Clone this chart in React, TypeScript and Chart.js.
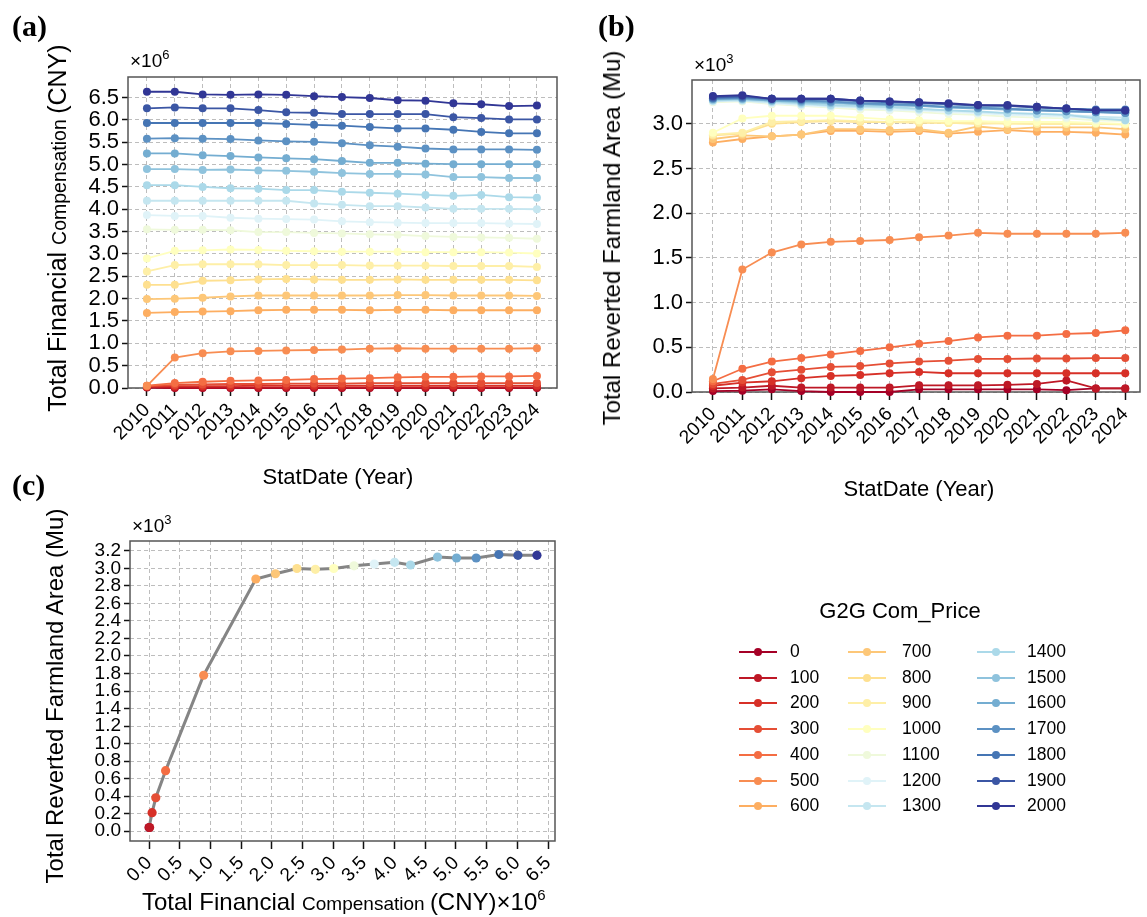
import React, { useEffect, useRef } from "react";
import { Chart, registerables } from "chart.js";

Chart.register(...registerables);

const W = 1147;
const H = 917;
const FONT = "'Liberation Sans', Arial, Helvetica, sans-serif";
const SERIF = "'Liberation Serif', 'Times New Roman', serif";

const years = [2010, 2011, 2012, 2013, 2014, 2015, 2016, 2017, 2018, 2019, 2020, 2021, 2022, 2023, 2024];
const prices = [0, 100, 200, 300, 400, 500, 600, 700, 800, 900, 1000, 1100, 1200, 1300, 1400, 1500, 1600, 1700, 1800, 1900, 2000];
const priceColors = [
  "#a50026", "#be1826", "#d73027", "#e54e35", "#f46d43", "#f88d52", "#fdae61",
  "#fdc778", "#fee090", "#feefa7", "#ffffbf", "#eff9db", "#e0f3f8", "#c5e6f0",
  "#abd9e9", "#8fc3dd", "#74add1", "#5c91c3", "#4575b4", "#3b56a4", "#313695",
];

// total financial compensation, x10^6 CNY, one array per G2G price
const compP0 = [0.01, 0, 0, 0, 0, 0, 0, 0, 0, 0, 0, 0, 0, 0, 0];
const compP100 = [0.02, 0.01, 0.01, 0.01, 0.01, 0.01, 0.01, 0.01, 0.01, 0.01, 0.01, 0.01, 0.01, 0.01, 0.01];
const compP200 = [0.03, 0.04, 0.04, 0.04, 0.05, 0.05, 0.05, 0.05, 0.05, 0.05, 0.05, 0.05, 0.05, 0.05, 0.05];
const compP300 = [0.04, 0.07, 0.08, 0.09, 0.09, 0.1, 0.1, 0.1, 0.11, 0.11, 0.11, 0.11, 0.11, 0.11, 0.11];
const compP400 = [0.05, 0.11, 0.14, 0.16, 0.17, 0.18, 0.2, 0.21, 0.22, 0.24, 0.25, 0.25, 0.26, 0.26, 0.27];
const compP500 = [0.05, 0.68, 0.78, 0.82, 0.83, 0.84, 0.85, 0.86, 0.88, 0.89, 0.88, 0.88, 0.88, 0.88, 0.89];
const compP600 = [1.68, 1.7, 1.71, 1.72, 1.74, 1.75, 1.75, 1.75, 1.74, 1.75, 1.75, 1.74, 1.74, 1.74, 1.74];
const compP700 = [1.99, 2.0, 2.02, 2.05, 2.07, 2.07, 2.07, 2.07, 2.07, 2.08, 2.08, 2.07, 2.07, 2.07, 2.06];
const compP800 = [2.31, 2.31, 2.4, 2.41, 2.43, 2.44, 2.43, 2.42, 2.42, 2.43, 2.42, 2.42, 2.42, 2.42, 2.41];
const compP900 = [2.61, 2.75, 2.77, 2.77, 2.77, 2.75, 2.75, 2.75, 2.74, 2.74, 2.74, 2.73, 2.73, 2.73, 2.71];
const compP1000 = [2.9, 3.07, 3.08, 3.1, 3.09, 3.07, 3.06, 3.05, 3.05, 3.05, 3.04, 3.04, 3.04, 3.03, 3.01];
const compP1100 = [3.55, 3.54, 3.54, 3.53, 3.49, 3.49, 3.47, 3.46, 3.44, 3.43, 3.4, 3.38, 3.37, 3.36, 3.34];
const compP1200 = [3.87, 3.85, 3.85, 3.81, 3.79, 3.78, 3.77, 3.73, 3.71, 3.7, 3.69, 3.69, 3.69, 3.68, 3.67];
const compP1300 = [4.19, 4.19, 4.19, 4.19, 4.19, 4.19, 4.13, 4.1, 4.07, 4.07, 4.04, 4.01, 4.01, 4.01, 4.0];
const compP1400 = [4.54, 4.54, 4.5, 4.47, 4.46, 4.43, 4.43, 4.39, 4.37, 4.35, 4.32, 4.3, 4.32, 4.27, 4.26];
const compP1500 = [4.9, 4.9, 4.88, 4.89, 4.87, 4.86, 4.84, 4.81, 4.79, 4.79, 4.78, 4.72, 4.72, 4.7, 4.7];
const compP1600 = [5.25, 5.25, 5.21, 5.19, 5.16, 5.14, 5.12, 5.08, 5.04, 5.04, 5.02, 5.01, 5.01, 5.01, 5.01];
const compP1700 = [5.58, 5.59, 5.58, 5.57, 5.54, 5.52, 5.51, 5.48, 5.43, 5.4, 5.36, 5.34, 5.34, 5.34, 5.33];
const compP1800 = [5.93, 5.93, 5.93, 5.93, 5.93, 5.91, 5.89, 5.87, 5.84, 5.81, 5.81, 5.78, 5.73, 5.7, 5.7];
const compP1900 = [6.26, 6.28, 6.26, 6.26, 6.22, 6.17, 6.16, 6.13, 6.13, 6.13, 6.13, 6.06, 6.04, 6.01, 6.01];
const compP2000 = [6.63, 6.63, 6.57, 6.56, 6.57, 6.56, 6.53, 6.51, 6.49, 6.44, 6.43, 6.37, 6.35, 6.31, 6.32];

// total reverted farmland area, x10^3 Mu
const areaP0 = [0.01, 0.015, 0.03, 0.01, 0, 0, 0, 0.03, 0.03, 0.03, 0.03, 0.03, 0.02, 0.04, 0.04];
const areaP100 = [0.04, 0.05, 0.07, 0.05, 0.05, 0.05, 0.05, 0.075, 0.075, 0.075, 0.08, 0.09, 0.13, 0.04, 0.04];
const areaP200 = [0.07, 0.105, 0.12, 0.155, 0.18, 0.19, 0.21, 0.225, 0.21, 0.21, 0.21, 0.21, 0.21, 0.21, 0.21];
const areaP300 = [0.09, 0.135, 0.22, 0.25, 0.28, 0.29, 0.32, 0.34, 0.35, 0.37, 0.37, 0.375, 0.375, 0.38, 0.38];
const areaP400 = [0.12, 0.26, 0.34, 0.38, 0.42, 0.46, 0.5, 0.54, 0.57, 0.61, 0.63, 0.63, 0.65, 0.66, 0.69];
const areaP500 = [0.145, 1.37, 1.56, 1.65, 1.68, 1.69, 1.7, 1.73, 1.75, 1.78, 1.77, 1.77, 1.77, 1.77, 1.78];
const areaP600 = [2.79, 2.83, 2.86, 2.88, 2.92, 2.92, 2.91, 2.92, 2.89, 2.91, 2.93, 2.91, 2.91, 2.9, 2.88];
const areaP700 = [2.83, 2.87, 2.86, 2.88, 2.94, 2.94, 2.93, 2.94, 2.9, 2.97, 2.94, 2.96, 2.96, 2.96, 2.94];
const areaP800 = [2.87, 2.89, 3.0, 3.02, 3.03, 3.02, 3.02, 3.01, 3.01, 3.0, 3.01, 3.0, 3.0, 3.0, 3.0];
const areaP900 = [2.88, 2.9, 3.02, 3.03, 3.04, 3.03, 3.02, 3.02, 3.01, 3.01, 3.0, 3.0, 3.0, 3.0, 2.99];
const areaP1000 = [2.9, 3.06, 3.09, 3.09, 3.09, 3.07, 3.05, 3.04, 3.03, 3.03, 3.02, 3.02, 3.02, 3.01, 3.0];
const areaP1100 = [3.24, 3.25, 3.22, 3.2, 3.18, 3.16, 3.15, 3.13, 3.11, 3.1, 3.08, 3.07, 3.06, 3.04, 3.03];
const areaP1200 = [3.25, 3.26, 3.23, 3.21, 3.19, 3.18, 3.16, 3.15, 3.13, 3.12, 3.1, 3.09, 3.08, 3.06, 3.05];
const areaP1300 = [3.26, 3.26, 3.24, 3.22, 3.2, 3.19, 3.18, 3.16, 3.15, 3.13, 3.12, 3.11, 3.1, 3.08, 3.07];
const areaP1400 = [3.26, 3.27, 3.25, 3.23, 3.21, 3.2, 3.19, 3.17, 3.15, 3.14, 3.12, 3.11, 3.1, 3.06, 3.04];
const areaP1500 = [3.27, 3.28, 3.26, 3.24, 3.23, 3.22, 3.21, 3.2, 3.19, 3.18, 3.17, 3.16, 3.15, 3.14, 3.13];
const areaP1600 = [3.28, 3.28, 3.26, 3.25, 3.24, 3.22, 3.21, 3.2, 3.18, 3.17, 3.16, 3.15, 3.14, 3.13, 3.12];
const areaP1700 = [3.28, 3.29, 3.27, 3.26, 3.25, 3.23, 3.22, 3.21, 3.19, 3.18, 3.17, 3.15, 3.14, 3.13, 3.12];
const areaP1800 = [3.29, 3.3, 3.28, 3.27, 3.27, 3.25, 3.24, 3.23, 3.22, 3.2, 3.2, 3.19, 3.17, 3.16, 3.16];
const areaP1900 = [3.3, 3.31, 3.28, 3.28, 3.28, 3.26, 3.25, 3.24, 3.22, 3.21, 3.2, 3.18, 3.17, 3.15, 3.15];
const areaP2000 = [3.31, 3.32, 3.28, 3.28, 3.28, 3.26, 3.25, 3.24, 3.23, 3.21, 3.21, 3.19, 3.17, 3.15, 3.15];

const compensation = [
  compP0, compP100, compP200, compP300, compP400, compP500, compP600, compP700, compP800, compP900, compP1000,
  compP1100, compP1200, compP1300, compP1400, compP1500, compP1600, compP1700, compP1800, compP1900, compP2000,
];
const area = [
  areaP0, areaP100, areaP200, areaP300, areaP400, areaP500, areaP600, areaP700, areaP800, areaP900, areaP1000,
  areaP1100, areaP1200, areaP1300, areaP1400, areaP1500, areaP1600, areaP1700, areaP1800, areaP1900, areaP2000,
];

const compTicks = [0, 0.5, 1, 1.5, 2, 2.5, 3, 3.5, 4, 4.5, 5, 5.5, 6, 6.5];
const areaTicksB = [0, 0.5, 1, 1.5, 2, 2.5, 3];
const areaTicksC = [0, 0.2, 0.4, 0.6, 0.8, 1, 1.2, 1.4, 1.6, 1.8, 2, 2.2, 2.4, 2.6, 2.8, 3, 3.2];

const AXIS_W = 60;
const AXIS_H = 60;

type Area = { left: number; top: number; right: number; bottom: number };

// solid frame round the plot area, drawn under the data
const frame = {
  id: "frame",
  beforeDatasetsDraw(chart: any) {
    const { ctx, chartArea: a } = chart;
    ctx.save();
    ctx.strokeStyle = "#555";
    ctx.lineWidth = 1.5;
    ctx.strokeRect(a.left, a.top, a.right - a.left, a.bottom - a.top);
    ctx.restore();
  },
};

function axis(pos: "left" | "bottom", min: number, max: number, ticks: number[], size: number, rotate: boolean, fmt: (v: number) => string) {
  return {
    type: "linear",
    position: pos,
    min,
    max,
    afterBuildTicks: (s: any) => {
      s.ticks = ticks.map((v) => ({ value: v }));
    },
    afterFit: (s: any) => {
      if (pos === "left") s.width = AXIS_W;
      else s.height = AXIS_H;
    },
    grid: {
      color: "#bdbdbd",
      lineWidth: 1,
      drawTicks: true,
      tickLength: pos === "left" ? 6 : 8,
      tickColor: "#111",
      tickWidth: 1.5,
      tickBorderDash: [],
    },
    border: { display: false, dash: [4, 3] },
    ticks: {
      autoSkip: false,
      color: "#000",
      padding: 3,
      maxRotation: rotate ? 45 : 0,
      minRotation: rotate ? 45 : 0,
      font: { family: FONT, size },
      callback: (v: any) => fmt(Number(v)),
    },
  };
}

function padFor(a: Area) {
  return { left: a.left - AXIS_W, top: a.top, right: W - a.right, bottom: H - a.bottom - AXIS_H };
}

const fixed1 = (v: number) => v.toFixed(1);
const yearLabel = (v: number) => String(v);

function lineSeries(values: number[][]) {
  return values.map((vals, i) => ({
    label: String(prices[i]),
    data: vals.map((v, j) => ({ x: years[j], y: v })),
    borderColor: priceColors[i],
    backgroundColor: priceColors[i],
    pointBackgroundColor: priceColors[i],
    pointBorderWidth: 0,
    pointRadius: 4,
    borderWidth: 1.8,
    order: prices.length - i,
    clip: false,
  }));
}

function baseOptions(a: Area, x: any, y: any) {
  return {
    responsive: false,
    animation: false,
    events: [],
    layout: { padding: padFor(a) },
    plugins: { legend: { display: false }, tooltip: { enabled: false }, title: { display: false } },
    scales: { x, y },
  };
}

const areaA: Area = { left: 128, top: 77, right: 557, bottom: 388 };
const areaB: Area = { left: 692, top: 80, right: 1140, bottom: 392 };
const areaC: Area = { left: 130, top: 541, right: 555, bottom: 841 };

function configA() {
  return {
    type: "line",
    data: { datasets: lineSeries(compensation) },
    options: baseOptions(
      areaA,
      axis("bottom", 2009.32, 2024.72, years, 19, true, yearLabel),
      axis("left", 0, 6.96, compTicks, 22, false, fixed1)
    ),
    plugins: [frame],
  };
}

function configB() {
  return {
    type: "line",
    data: { datasets: lineSeries(area) },
    options: baseOptions(
      areaB,
      axis("bottom", 2009.29, 2024.5, years, 19, true, yearLabel),
      axis("left", 0, 3.49, areaTicksB, 22, false, fixed1)
    ),
    plugins: [frame],
  };
}

function configC() {
  const last = years.length - 1;
  return {
    type: "line",
    data: {
      datasets: [
        {
          label: "2024",
          data: prices.map((_, i) => ({ x: compensation[i][last], y: area[i][last] })),
          borderColor: "#858585",
          borderWidth: 3,
          pointBackgroundColor: priceColors,
          pointBorderWidth: 0,
          pointRadius: 4.6,
          clip: false,
        },
      ],
    },
    options: baseOptions(
      areaC,
      axis("bottom", -0.31, 6.614, compTicks, 19, true, fixed1),
      axis("left", -0.114, 3.314, areaTicksC, 19, false, fixed1)
    ),
    plugins: [frame],
  };
}

function Panel({ make }: { make: () => any }) {
  const ref = useRef<HTMLCanvasElement | null>(null);
  useEffect(() => {
    const ctx = ref.current?.getContext("2d");
    if (!ctx) return;
    const chart = new Chart(ctx, make());
    return () => chart.destroy();
  }, []);
  return <canvas ref={ref} width={W} height={H} style={{ position: "absolute", left: 0, top: 0, width: W, height: H }} />;
}

const abs = (left: number, top: number, extra: React.CSSProperties = {}): React.CSSProperties => ({
  position: "absolute",
  left,
  top,
  whiteSpace: "nowrap",
  lineHeight: 1,
  color: "#000",
  fontFamily: FONT,
  ...extra,
});

function Power({ left, top, exp }: { left: number; top: number; exp: string }) {
  return (
    <div style={abs(left, top, { fontSize: 19 })}>
      ×10<span style={{ fontSize: 13, position: "relative", top: -8 }}>{exp}</span>
    </div>
  );
}

function Legend() {
  const colX = [739, 848, 977];
  const textX = [790, 902, 1027];
  return (
    <>
      <div style={abs(900, 611, { fontSize: 22, transform: "translate(-50%, -50%)" })}>G2G Com_Price</div>
      {prices.map((p, i) => {
        const col = Math.floor(i / 7);
        const row = i % 7;
        const cy = 652 + row * 25.7;
        return (
          <React.Fragment key={p}>
            <svg style={{ position: "absolute", left: colX[col], top: cy - 5 }} width={38} height={10}>
              <line x1={0} y1={5} x2={38} y2={5} stroke={priceColors[i]} strokeWidth={2} />
              <circle cx={19} cy={5} r={4} fill={priceColors[i]} />
            </svg>
            <div style={abs(textX[col], cy, { fontSize: 17.5, transform: "translateY(-50%)" })}>{p}</div>
          </React.Fragment>
        );
      })}
    </>
  );
}

export default function App() {
  const big = { fontSize: 24 };
  const small = { fontSize: 19 };
  return (
    <div style={{ position: "absolute", left: 0, top: 0, width: W, height: H, background: "#fff", overflow: "hidden" }}>
      <Panel make={configA} />
      <Panel make={configB} />
      <Panel make={configC} />

      <div style={abs(12, 9, { font: `bold 30px ${SERIF}` })}>(a)</div>
      <div style={abs(598, 9, { font: `bold 30px ${SERIF}` })}>(b)</div>
      <div style={abs(12, 468, { font: `bold 30px ${SERIF}` })}>(c)</div>

      <Power left={130} top={51} exp="6" />
      <Power left={694} top={55} exp="3" />
      <Power left={132} top={516} exp="3" />

      <div style={abs(57, 228, { transform: "translate(-50%, -50%) rotate(-90deg)" })}>
        <span style={{ fontSize: 25 }}>Total Financial </span>
        <span style={{ fontSize: 19.5 }}>Compensation </span>
        <span style={{ fontSize: 25 }}>(CNY)</span>
      </div>
      <div style={abs(612, 238, { fontSize: 24, transform: "translate(-50%, -50%) rotate(-90deg)" })}>
        Total Reverted Farmland Area (Mu)
      </div>
      <div style={abs(55, 696, { fontSize: 24, transform: "translate(-50%, -50%) rotate(-90deg)" })}>
        Total Reverted Farmland Area (Mu)
      </div>

      <div style={abs(338, 477, { fontSize: 22, transform: "translate(-50%, -50%)" })}>StatDate (Year)</div>
      <div style={abs(919, 489, { fontSize: 22, transform: "translate(-50%, -50%)" })}>StatDate (Year)</div>

      <div style={abs(142, 902, { transform: "translateY(-50%)" })}>
        <span style={big}>Total Financial </span>
        <span style={small}>Compensation </span>
        <span style={big}>(CNY)×10</span>
        <span style={{ fontSize: 15, position: "relative", top: -10 }}>6</span>
      </div>

      <Legend />
    </div>
  );
}
